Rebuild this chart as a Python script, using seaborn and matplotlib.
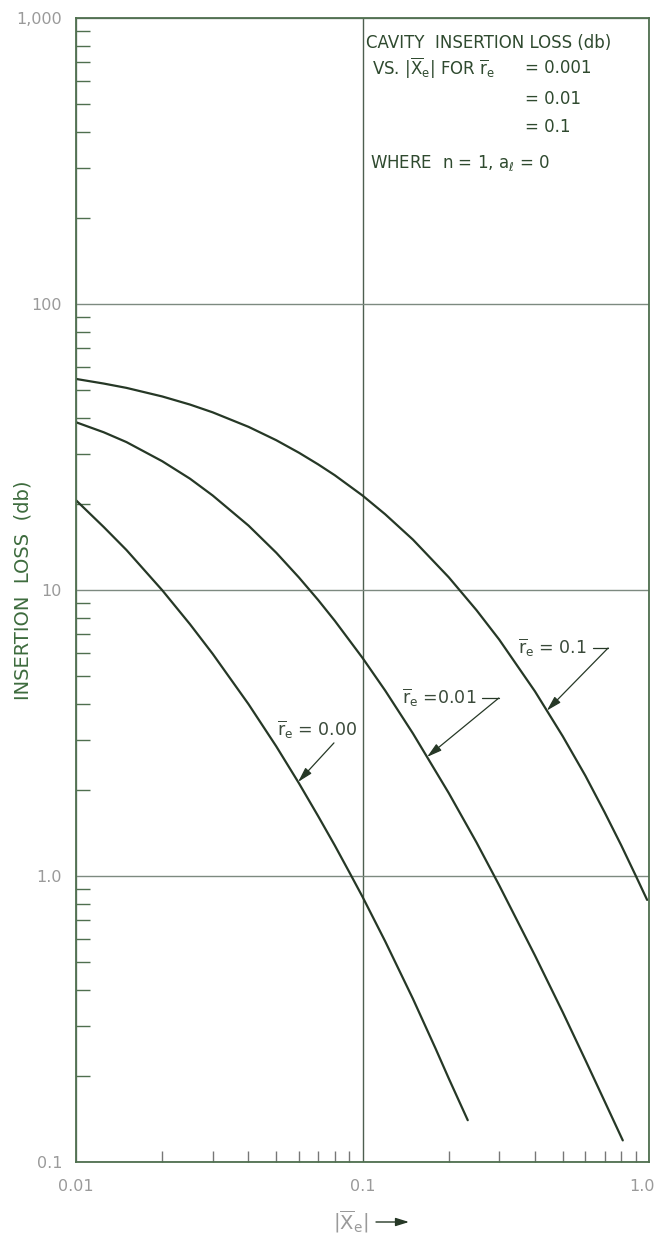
import numpy as np
import pandas as pd
import matplotlib
matplotlib.use('Agg')
from matplotlib import pyplot as plt
from matplotlib import transforms
import seaborn as sns

# curves: |Xe| vs insertion loss (db)
x_r001 = [0.01, 0.0125, 0.015, 0.02, 0.025, 0.03, 0.04, 0.05, 0.06, 0.07, 0.08, 0.09, 0.1,
          0.12, 0.15, 0.18, 0.2, 0.233]
y_r001 = [20.6, 16.6, 13.8, 9.98, 7.59, 5.98, 3.99, 2.84, 2.11, 1.62, 1.28, 1.03, 0.846,
          0.591, 0.372, 0.249, 0.196, 0.14]

x_r01 = [0.01, 0.0125, 0.015, 0.02, 0.025, 0.03, 0.04, 0.05, 0.06, 0.07, 0.08, 0.1, 0.12,
         0.15, 0.2, 0.25, 0.3, 0.4, 0.5, 0.6, 0.7, 0.81]
y_r01 = [38.6, 35.6, 32.9, 28.2, 24.5, 21.4, 16.8, 13.5, 11.06, 9.23, 7.81, 5.79, 4.45,
         3.15, 1.95, 1.31, 0.928, 0.527, 0.334, 0.227, 0.163, 0.119]

x_r1 = [0.01, 0.0125, 0.015, 0.02, 0.025, 0.03, 0.04, 0.05, 0.06, 0.07, 0.08, 0.1, 0.12,
        0.15, 0.2, 0.25, 0.3, 0.4, 0.5, 0.6, 0.7, 0.8, 0.9, 0.985]
y_r1 = [54.7, 52.7, 50.9, 47.5, 44.5, 41.8, 37.2, 33.4, 30.2, 27.5, 25.2, 21.4, 18.4,
        15.0, 11.08, 8.50, 6.71, 4.42, 3.08, 2.24, 1.67, 1.28, 1.00, 0.825]

ytick_vals = [0.1, 1, 10, 100, 1000]
ytick_labels = ['0.1', '1.0', '10', '100', '1,000']
xtick_vals = [0.01, 0.1, 1.0]
xtick_labels = ['0.01', '0.1', '1.0']

curves = pd.concat([
    pd.DataFrame({'x': x_r001, 'loss': y_r001, 're': '0.001'}),
    pd.DataFrame({'x': x_r01, 'loss': y_r01, 're': '0.01'}),
    pd.DataFrame({'x': x_r1, 'loss': y_r1, 're': '0.1'}),
])

ink = '#263826'
spine = '#4f6f4f'
green_txt = '#3d6b3d'
grey_txt = '#9a9a9a'

sns.set_style('white')
plt.rcParams['font.family'] = ['DejaVu Sans']

fig = plt.figure(figsize=(6.6, 12.39), dpi=100)
ax = fig.add_axes([76 / 660, 1 - 1162 / 1239, 573 / 660, 1144 / 1239])

sns.lineplot(data=curves, x='x', y='loss', hue='re', units='re', estimator=None, sort=False,
             palette=[ink, ink, ink], linewidth=1.6, legend=False, ax=ax)

ax.set_xscale('log')
ax.set_yscale('log')
ax.set_xlim(0.01, 1.0)
ax.set_ylim(0.1, 1000)

ax.set_xticks(xtick_vals, labels=xtick_labels)
ax.set_yticks(ytick_vals, labels=ytick_labels)
ax.tick_params(which='major', length=0, labelsize=11.5, labelcolor=grey_txt)
ax.tick_params(axis='x', which='major', pad=12)
ax.tick_params(axis='y', which='major', pad=10)
ax.tick_params(axis='y', which='minor', direction='in', length=10, width=1, color=spine, left=True)
ax.tick_params(axis='x', which='minor', direction='in', length=8, width=1, color='#777777', bottom=True)
ax.xaxis.set_minor_formatter(plt.NullFormatter())
ax.yaxis.set_minor_formatter(plt.NullFormatter())
# keep the last x label inside the figure
last = ax.get_xticklabels()[-1]
last.set_transform(last.get_transform() + transforms.ScaledTranslation(-7 / 100, 0, fig.dpi_scale_trans))

ax.grid(True, which='major', color='#7d8a80', linewidth=1.0)
ax.grid(False, which='minor')
ax.get_xgridlines()[1].set_color('#4d5f50')
for s in ax.spines.values():
    s.set_color(spine)
    s.set_linewidth(1.3)

ax.set_xlabel('')
ax.set_ylabel('INSERTION  LOSS  (db)', color=green_txt, fontsize=14)
ax.yaxis.set_label_coords(-0.076, 0.5)

# legend block in upper right
tkw = dict(transform=ax.transAxes, color='#2f4a2f', fontsize=12, va='center', ha='left')
ax.text(0.506, 0.978, 'CAVITY  INSERTION LOSS (db)', **tkw)
ax.text(0.517, 0.956, r'VS. $|\overline{\mathrm{X}}_\mathrm{e}|$ FOR $\overline{\mathrm{r}}_\mathrm{e}$', **tkw)
ax.text(0.784, 0.956, '= 0.001', **tkw)
ax.text(0.784, 0.929, '= 0.01', **tkw)
ax.text(0.784, 0.905, '= 0.1', **tkw)
ax.text(0.513, 0.873, r'WHERE  n = 1, $\mathrm{a}_\ell$ = 0', **tkw)


def on_curve(xs, ys, xq):
    return 10 ** np.interp(np.log10(xq), np.log10(xs), np.log10(ys))


akw = dict(arrowstyle='-|>,head_length=0.9,head_width=0.25', color=ink, lw=0.9, shrinkA=0, shrinkB=0)
lkw = dict(color='#3a4a3a', fontsize=12.5, ha='center', va='center')
rlab = r'$\overline{\mathrm{r}}_\mathrm{e}$'

# r_e = 0.1
tip = 0.44
ax.text(0.462, 6.27, rlab + ' = 0.1', **lkw)
ax.plot([0.637, 0.72], [6.27, 6.27], color=ink, lw=0.9)
ax.annotate('', xy=(tip, on_curve(x_r1, y_r1, tip)), xytext=(0.72, 6.27), arrowprops=akw)

# r_e = 0.01
tip = 0.168
ax.text(0.185, 4.19, rlab + ' =0.01', **lkw)
ax.plot([0.261, 0.299], [4.19, 4.19], color=ink, lw=0.9)
ax.annotate('', xy=(tip, on_curve(x_r01, y_r01, tip)), xytext=(0.299, 4.19), arrowprops=akw)

# r_e = 0.001
tip = 0.0596
ax.text(0.0693, 3.24, rlab + ' = 0.00', **lkw)
ax.annotate('', xy=(tip, on_curve(x_r001, y_r001, tip)), xytext=(0.0795, 2.92), arrowprops=akw)

# x axis label with arrow
fig.text(333 / 660, 1 - 1222 / 1239, r'$|\overline{\mathrm{X}}_\mathrm{e}|$', color=grey_txt,
         fontsize=14, ha='left', va='center')
ax.annotate('', xy=(409, 17), xytext=(376, 17), xycoords='figure pixels', textcoords='figure pixels',
            arrowprops=dict(arrowstyle='-|>,head_length=0.8,head_width=0.25', color=ink, lw=1.0,
                            shrinkA=0, shrinkB=0))

fig.savefig('out.png', dpi=100)
